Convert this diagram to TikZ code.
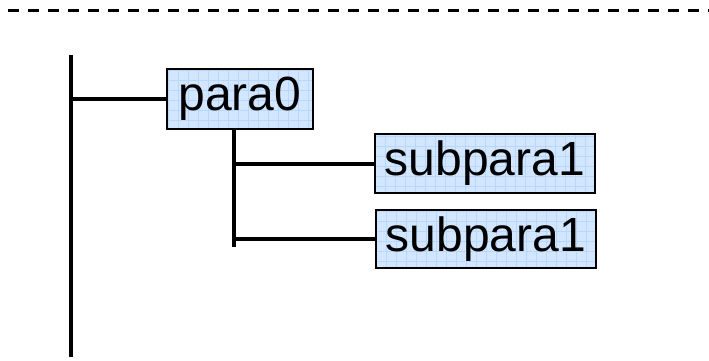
\documentclass[tikz,border=0pt]{standalone}
\usepackage{fontspec}
\setmainfont{Liberation Sans}
\usepackage{tikz}
\usetikzlibrary{positioning}

\definecolor{boxfill}{RGB}{210,230,255}
\definecolor{boxgrid}{RGB}{185,215,250}

\begin{document}
\begin{tikzpicture}[x=1pt, y=-1pt,
    parabox/.style={draw, line width=2.5pt, fill=boxfill, inner sep=0pt,
        font=\fontsize{48}{56}\selectfont,
        path picture={\draw[boxgrid, line width=0.6pt, step=10pt]
            (path picture bounding box.south west) grid (path picture bounding box.north east);}},
    link/.style={line width=4pt}]
    \useasboundingbox (0,0) rectangle (709,361);

    % Separator
    \coordinate (sepleft) at (8,11);
    \coordinate (sepright) at (709,11);
    \draw[line width=3pt, dash pattern=on 11pt off 9pt] (sepleft) -- (sepright);

    % Paragraph boxes
    \node[parabox, minimum width=146pt, minimum height=60pt] (para) at (240,99) {para0};
    \node[parabox, minimum width=220pt, minimum height=59pt] (subone) at (485,163.5) {subpara1};
    \node[parabox, minimum width=220pt, minimum height=58pt] (subtwo) at (486,239) {subpara1};

    % Main spine
    \coordinate (spinetop) at (71,55);
    \coordinate (spinebottom) at (71,357);
    \draw[link] (spinetop) -- (spinebottom);
    \draw[link] (spinetop |- para.west) -- (para.west);

    % Sub branch
    \coordinate (trunktop) at (234,129);
    \coordinate (trunkend) at (234,247);
    \draw[link] (trunktop) -- (trunkend);
    \draw[link] (trunktop |- subone.west) -- (subone.west);
    \draw[link] (trunktop |- subtwo.west) -- (subtwo.west);
\end{tikzpicture}
\end{document}
